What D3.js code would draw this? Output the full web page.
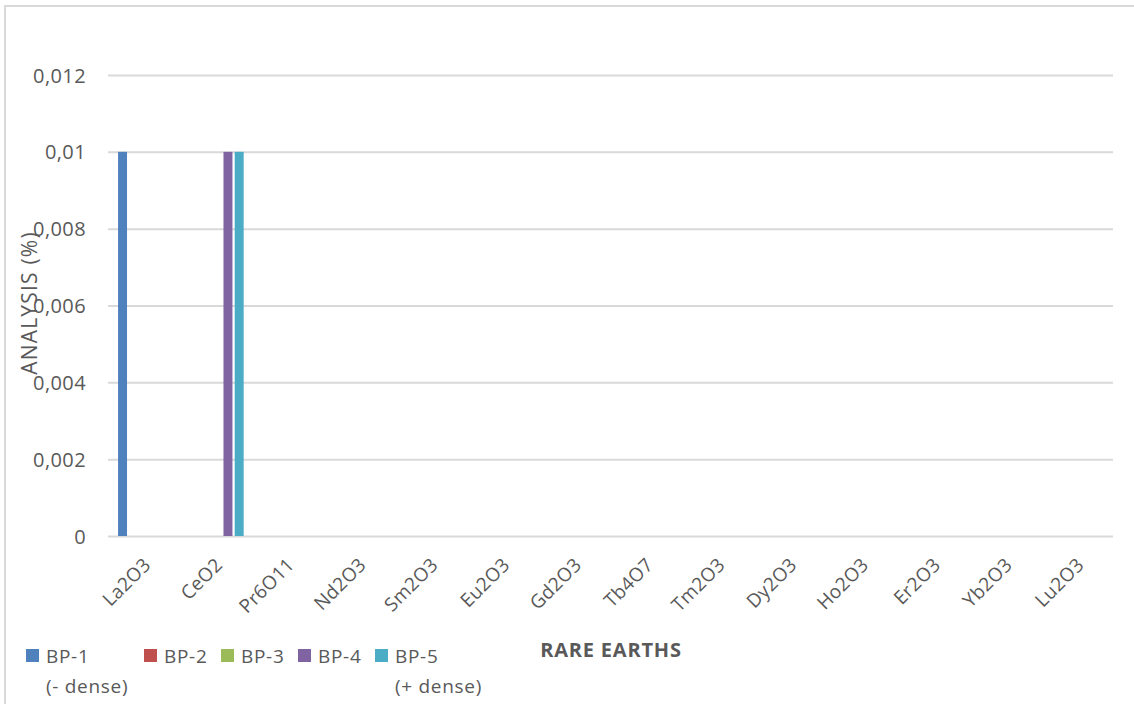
<!DOCTYPE html>
<html>
<head>
<meta charset="utf-8">
<script src="https://cdn.jsdelivr.net/npm/d3@7"></script>
<style>
  html, body { margin: 0; padding: 0; background: #fff; }
  svg { display: block; }
  text { font-family: "Open Sans", sans-serif; fill: #595959; }
</style>
</head>
<body>
<svg id="chart" width="1134" height="704"></svg>
<script>
const categories = ["La2O3","CeO2","Pr6O11","Nd2O3","Sm2O3","Eu2O3","Gd2O3","Tb4O7","Tm2O3","Dy2O3","Ho2O3","Er2O3","Yb2O3","Lu2O3"];
const seriesNames = ["BP-1","BP-2","BP-3","BP-4","BP-5"];
const seriesSub = ["(- dense)","","","","(+ dense)"];
const seriesColors = ["#4F81BD","#C0504D","#9BBB59","#8064A2","#4BACC6"];
const bp1 = [0.01,0,0,0,0,0,0,0,0,0,0,0,0,0];
const bp2 = [0,0,0,0,0,0,0,0,0,0,0,0,0,0];
const bp3 = [0,0,0,0,0,0,0,0,0,0,0,0,0,0];
const bp4 = [0,0.01,0,0,0,0,0,0,0,0,0,0,0,0];
const bp5 = [0,0.01,0,0,0,0,0,0,0,0,0,0,0,0];
const yTicks = [0,0.002,0.004,0.006,0.008,0.01,0.012];
const yTickLabels = ["0","0,002","0,004","0,006","0,008","0,01","0,012"];
const yTitle = "ANALYSIS (%)";
const xTitle = "RARE EARTHS";

const seriesValues = [bp1,bp2,bp3,bp4,bp5];

const svg = d3.select("#chart");
const W = 1134, H = 704;
const plot = {left:108, right:1113, top:75, bottom:536};

// outer border
svg.append("rect")
  .attr("x",5).attr("y",6).attr("width",W+10).attr("height",H+10)
  .attr("fill","none").attr("stroke","#D9D9D9").attr("stroke-width",2);

const x0 = d3.scaleBand().domain(categories).range([plot.left, plot.right]).paddingInner(0).paddingOuter(0);
const bw = x0.bandwidth();
const x1 = d3.scaleBand().domain(seriesNames).range([bw*0.14, bw*0.89]).paddingInner(0.2).paddingOuter(0);
const y = d3.scaleLinear().domain([0,0.012]).range([plot.bottom, plot.top]);

// y axis with gridlines
const yAxis = d3.axisLeft(y)
  .tickValues(yTicks)
  .tickFormat((d,i)=>yTickLabels[i])
  .tickSizeInner(-(plot.right-plot.left))
  .tickSizeOuter(0)
  .tickPadding(22);
const gy = svg.append("g").attr("transform",`translate(${plot.left},0)`).call(yAxis);
gy.select(".domain").remove();
gy.selectAll(".tick line").attr("stroke","#D9D9D9").attr("stroke-width",2);
gy.selectAll(".tick text")
  .style("font-family","'Open Sans', sans-serif")
  .style("font-size","20px").style("letter-spacing","0.4px")
  .attr("fill","#595959").attr("dy","0.35em");

// bars
const groups = svg.append("g").selectAll("g")
  .data(categories)
  .join("g")
  .attr("transform", d=>`translate(${x0(d)},0)`);
groups.selectAll("rect")
  .data((c,ci)=>seriesNames.map((s,si)=>({s, si, v: seriesValues[si][ci]})))
  .join("rect")
  .filter(d=>d.v>0)
  .attr("x", d=>x1(d.s))
  .attr("width", x1.bandwidth())
  .attr("y", d=>y(d.v))
  .attr("height", d=>y(0)-y(d.v))
  .attr("fill", d=>seriesColors[d.si]);

// x axis labels
const xAxis = d3.axisBottom(x0).tickSize(0).tickPadding(0);
const gx = svg.append("g").attr("transform",`translate(0,${plot.bottom})`).call(xAxis);
gx.select(".domain").remove();
gx.selectAll(".tick text")
  .style("font-family","'Open Sans', sans-serif")
  .style("font-size","19px").style("letter-spacing","0.3px")
  .attr("fill","#595959")
  .attr("text-anchor","end")
  .attr("dy",null).attr("y",null)
  .attr("transform","translate(8,30) rotate(-45)");

// axis titles
svg.append("text")
  .attr("transform","translate(37,303) rotate(-90)")
  .attr("text-anchor","middle")
  .style("font-size","21px").style("letter-spacing","1.2px")
  .text(yTitle);

svg.append("text")
  .attr("x",611).attr("y",657)
  .attr("text-anchor","middle")
  .style("font-size","20px").style("font-weight","bold").style("letter-spacing","0.8px")
  .text(xTitle);

// legend
const legendX = [26,144,221,298,375];
const lg = svg.append("g").selectAll("g").data(seriesNames).join("g")
  .attr("transform",(d,i)=>`translate(${legendX[i]},649)`);
lg.append("rect").attr("width",13).attr("height",13).attr("fill",(d,i)=>seriesColors[i]);
const lt = lg.append("text").attr("x",20).attr("y",14)
  .style("font-size","19px").style("letter-spacing","0.7px");
lt.append("tspan").text(d=>d);
lt.append("tspan").attr("x",20).attr("dy",30).text((d,i)=>seriesSub[i]);
</script>
</body>
</html>
